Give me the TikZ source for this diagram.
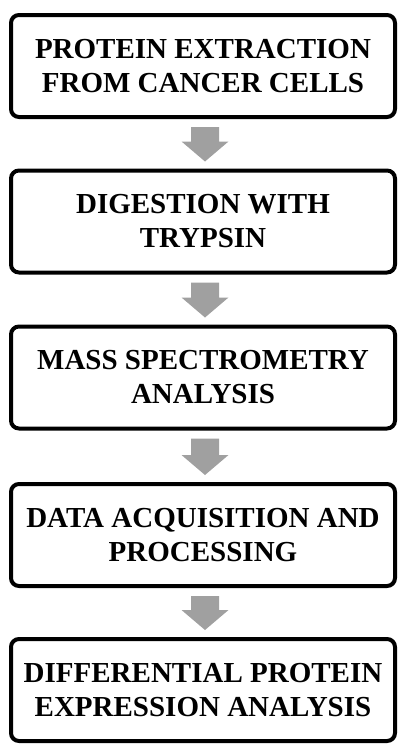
\documentclass[tikz,border=0pt]{standalone}
\usepackage{fontspec}
\setmainfont{Liberation Serif}
\usetikzlibrary{calc}
\definecolor{arrowgray}{RGB}{160,160,160}
\tikzset{
  stepbox/.style={draw=black, line width=4pt, rounded corners=8pt, fill=white,
    minimum width=384pt, minimum height=102pt, inner sep=0pt, align=center,
    font=\fontsize{29}{34}\selectfont\bfseries},
}
\newcommand\blockarrow[2]{%
  \fill[arrowgray]
    ($(#1.south)+(2-14,8)$) -- ($(#1.south)+(2+14,8)$) --
    ($(#2.north)+(2+14,-27)$) -- ($(#2.north)+(2+23.5,-27)$) --
    ($(#2.north)+(2,-7)$) --
    ($(#2.north)+(2-23.5,-27)$) -- ($(#2.north)+(2-14,-27)$) -- cycle;}
\begin{document}
\begin{tikzpicture}[x=1pt,y=-1pt]
\useasboundingbox (0,0) rectangle (398,744);
\node[stepbox] (b1) at (203,66) {PROTEIN EXTRACTION\\FROM CANCER CELLS};
\node[stepbox] (b2) at (203,221.5) {DIGESTION WITH\\TRYPSIN};
\node[stepbox] (b3) at (203,377.5) {MASS SPECTROMETRY\\ANALYSIS};
\node[stepbox] (b4) at (203,535) {DATA ACQUISITION AND\\PROCESSING};
\node[stepbox] (b5) at (203,690) {DIFFERENTIAL PROTEIN\\EXPRESSION ANALYSIS};
\blockarrow{b1}{b2}
\blockarrow{b2}{b3}
\blockarrow{b3}{b4}
\blockarrow{b4}{b5}
\end{tikzpicture}
\end{document}
